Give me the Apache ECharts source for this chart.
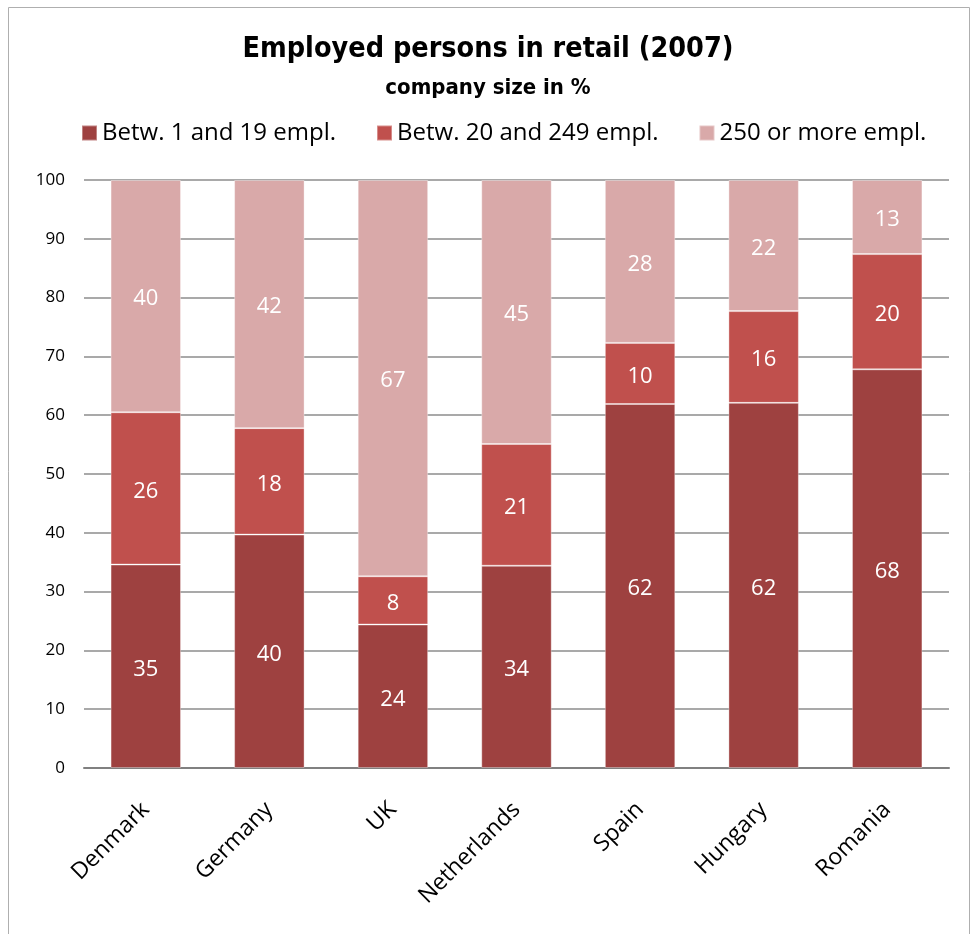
<!DOCTYPE html>
<html>
<head>
<meta charset="utf-8">
<script src="https://cdn.jsdelivr.net/npm/echarts@6/dist/echarts.min.js"></script>
<style>
  html, body { margin: 0; padding: 0; background: #fff; }
  #chart { width: 976px; height: 934px; }
</style>
</head>
<body>
<div id="chart"></div>
<script>
// Employed persons in retail by company size, 2007 (share in %)
const countries = ['Denmark', 'Germany', 'UK', 'Netherlands', 'Spain', 'Hungary', 'Romania'];
const small = [34.6, 39.7, 24.4, 34.4, 61.9, 62.1, 67.8];   // 1-19 employees
const medium = [25.9, 18.1, 8.2, 20.7, 10.4, 15.6, 19.6];   // 20-249 employees
const large = [39.5, 42.2, 67.4, 44.9, 27.7, 22.3, 12.6];   // 250+ employees
const seriesNames = ['Betw. 1 and 19 empl.', 'Betw. 20 and 249 empl.', '250 or more empl.'];
const colors = ['#9E4140', '#C0504D', '#D9A9A9'];

const chart = echarts.init(document.getElementById('chart'));
const labelFont = 'Open Sans, DejaVu Sans, sans-serif';
const titleFont = 'DejaVu Sans Condensed, Open Sans, sans-serif';

function barSeries(name, data, color) {
  return {
    name: name,
    type: 'bar',
    stack: 'total',
    data: data,
    barWidth: '57%',
    itemStyle: { color: color, borderColor: 'rgba(255,255,255,0.35)', borderWidth: 1 },
    label: {
      show: true,
      position: 'inside',
      offset: [0, 3],
      color: '#fff',
      fontFamily: labelFont,
      fontSize: 22,
      formatter: p => Math.round(p.value)
    }
  };
}

chart.setOption({
  animation: false,
  color: colors,
  graphic: [{
    type: 'rect',
    shape: { x: 8.5, y: 7.5, width: 961, height: 940 },
    style: { fill: 'none', stroke: '#AFAFAF', lineWidth: 1 },
    silent: true
  }],
  title: [{
    text: 'Employed persons in retail (2007)',
    left: 'center',
    top: 30,
    textStyle: { fontFamily: titleFont, fontWeight: 'bold', fontSize: 28.5, color: '#000' }
  }, {
    text: 'company size in %',
    left: 'center',
    top: 72,
    textStyle: { fontFamily: titleFont, fontWeight: 'bold', fontSize: 22, color: '#000' }
  }],
  legend: {
    top: 116,
    left: 76,
    itemWidth: 15,
    itemHeight: 15,
    itemGap: 40,
    icon: 'rect',
    textStyle: { fontFamily: labelFont, fontSize: 24, color: '#000' },
    data: seriesNames
  },
  grid: { left: 84, right: 27, top: 180, bottom: 166 },
  xAxis: {
    type: 'category',
    data: countries,
    axisTick: { show: false },
    axisLine: { lineStyle: { color: '#808080', width: 2 } },
    axisLabel: {
      rotate: 45,
      margin: 38,
      fontFamily: labelFont,
      fontSize: 23,
      color: '#000'
    }
  },
  yAxis: {
    type: 'value',
    min: 0,
    max: 100,
    interval: 10,
    axisLine: { show: false },
    axisTick: { show: false },
    splitLine: { lineStyle: { color: '#8C8C8C', width: 1.5 } },
    axisLabel: { margin: 19, fontFamily: labelFont, fontSize: 17, color: '#000' }
  },
  series: [
    barSeries(seriesNames[0], small, colors[0]),
    barSeries(seriesNames[1], medium, colors[1]),
    barSeries(seriesNames[2], large, colors[2])
  ]
});
</script>
</body>
</html>
